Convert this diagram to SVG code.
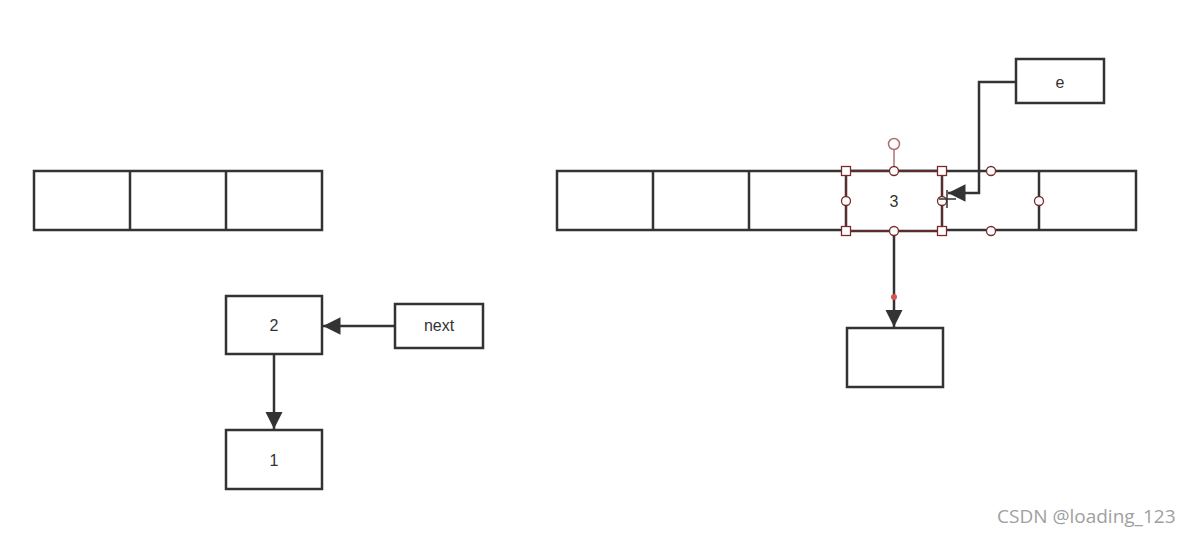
<svg xmlns="http://www.w3.org/2000/svg" width="1190" height="537" viewBox="0 0 1190 537">
<style>
.box{fill:#fff;stroke:#333;stroke-width:2.5}
.ln{fill:none;stroke:#333;stroke-width:2.5}
.lbl{font-family:"Liberation Sans",Arial,sans-serif;font-size:16px;fill:#333;text-anchor:middle}
.sq{fill:#fff;stroke:#7a2a2a;stroke-width:1.3}
.ci{fill:#fff;stroke:#7a2a2a;stroke-width:1.3}
.sel{fill:none;stroke:#6b2d2d;stroke-width:1.5}
</style>
<defs>
<marker id="ah2" viewBox="0 0 10 10" refX="10" refY="5" markerWidth="7" markerHeight="7" orient="auto">
<path d="M0,0 L10,5 L0,10 z" fill="#333"/>
</marker>
</defs>
<rect width="1190" height="537" fill="#fff"/>

<g id="left-array">
<rect class="box" x="34" y="171" width="288" height="59"/>
<line class="ln" x1="130" y1="171" x2="130" y2="230"/>
<line class="ln" x1="226" y1="171" x2="226" y2="230"/>
</g>

<g id="right-array">
<rect class="box" x="557" y="171" width="579" height="59"/>
<line class="ln" x1="653" y1="171" x2="653" y2="230"/>
<line class="ln" x1="749" y1="171" x2="749" y2="230"/>
<line class="ln" x1="1039" y1="171" x2="1039" y2="230"/>
</g>

<g id="node-3">
<rect class="box" x="846" y="171" width="96" height="60"/>
<rect class="sel" x="846" y="171" width="96" height="60"/>
<text class="lbl" x="894" y="207">3</text>
</g>

<g id="node-2">
<rect class="box" x="226" y="296" width="96" height="58"/>
<text class="lbl" x="274" y="331">2</text>
</g>
<g id="node-next">
<rect class="box" x="395" y="304" width="88" height="44"/>
<text class="lbl" x="439" y="331">next</text>
</g>
<g id="node-1">
<rect class="box" x="226" y="430" width="96" height="59"/>
<text class="lbl" x="274" y="466">1</text>
</g>
<g id="node-e">
<rect class="box" x="1016" y="59" width="88" height="44"/>
<text class="lbl" x="1060" y="88">e</text>
</g>
<g id="node-empty">
<rect class="box" x="847" y="328" width="96" height="59"/>
</g>

<g id="connectors">
<line class="ln" x1="395" y1="326" x2="323" y2="326" marker-end="url(#ah2)"/>
<line class="ln" x1="274" y1="354" x2="274" y2="429" marker-end="url(#ah2)"/>
<line class="ln" x1="894" y1="231" x2="894" y2="327" marker-end="url(#ah2)"/>
<polyline class="ln" points="1016,82 979,82 979,193 948,193" marker-end="url(#ah2)"/>
<circle cx="894" cy="297" r="3" fill="#d9534f"/>
</g>

<g id="selection-handles">
<line x1="894" y1="150" x2="894" y2="171" stroke="#a06060" stroke-width="1.3"/>
<circle cx="894" cy="144" r="5.5" fill="#fff" stroke="#b07070" stroke-width="1.5"/>
<circle class="ci" cx="894" cy="171" r="4.5"/>
<circle class="ci" cx="894" cy="231" r="4.5"/>
<circle class="ci" cx="846" cy="201" r="4.5"/>
<circle class="ci" cx="942" cy="201" r="4.5"/>
<circle class="ci" cx="991" cy="171" r="4.5"/>
<circle class="ci" cx="991" cy="231" r="4.5"/>
<circle class="ci" cx="1039" cy="201" r="4.5"/>
<rect class="sq" x="841.5" y="166.5" width="9" height="9"/>
<rect class="sq" x="937.5" y="166.5" width="9" height="9"/>
<rect class="sq" x="841.5" y="226.5" width="9" height="9"/>
<rect class="sq" x="937.5" y="226.5" width="9" height="9"/>
<path d="M947,190 V208 M939,199 H956" stroke="#333" stroke-width="1.5" fill="none"/>
</g>

<text x="997" y="523" font-family="'Open Sans','Noto Sans',sans-serif" font-size="19" fill="#a0a0a0">CSDN @loading_123</text>
</svg>
